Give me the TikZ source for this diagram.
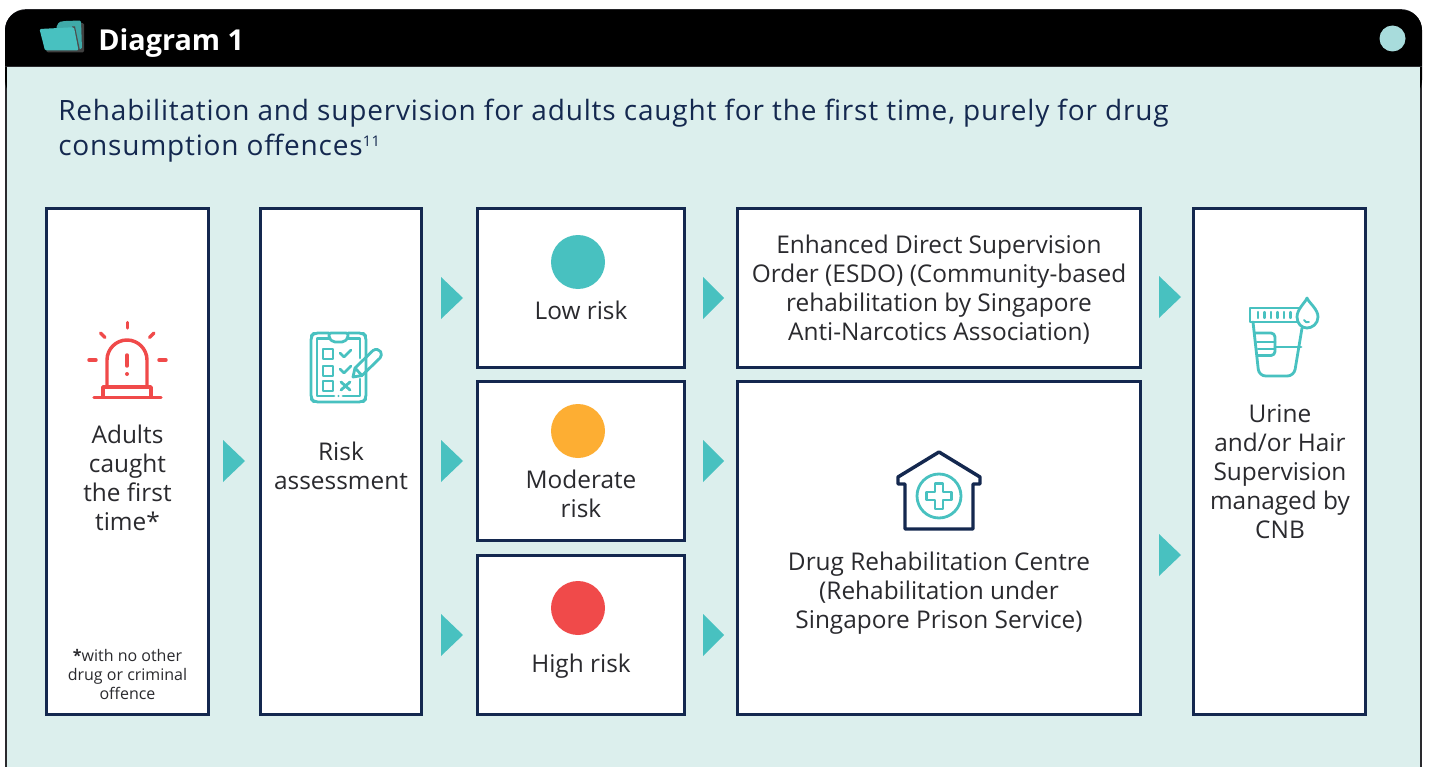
\documentclass[tikz,border=0pt]{standalone}
\usepackage{fontspec}
\setmainfont{Open Sans}
\newfontfamily\hfont[LetterSpace=2.9]{Open Sans}
\definecolor{navy}{HTML}{14284F}
\definecolor{teal}{HTML}{48C1C0}
\definecolor{panel}{HTML}{DCEFED}
\definecolor{redc}{HTML}{F04A4A}
\definecolor{amber}{HTML}{FDAE33}
\definecolor{dotc}{HTML}{A8DCDC}
\definecolor{txt}{HTML}{2A2A2E}
\tikzset{
  stepbox/.style={draw=navy,line width=2.25pt,fill=white,inner sep=0pt},
  lab/.style={font=\fontsize{18.3}{21.75}\selectfont,text=txt,align=center,inner sep=0pt},
  tri/.style={fill=teal,draw=none},
  riskdot/.style={circle,minimum size=40.5pt,inner sep=0pt,draw=none},
  icoT/.style={draw=teal,line width=2.1pt,line cap=round,line join=round},
  icoR/.style={draw=redc,line width=2.6pt,line cap=round,line join=round},
}
\newcommand{\boxat}[5]{\node[stepbox,minimum width=#4*0.75pt,minimum height=#5*0.75pt] (#1) at (#2,#3) {};}
\begin{document}
\begin{tikzpicture}[x=0.75pt,y=-0.75pt]
\useasboundingbox (0,0) rectangle (1429,767);
% panel
\draw[fill=panel,draw=txt,line width=1.3pt,rounded corners=15pt] (6,800) -- (6,10) -- (1421,10) -- (1421,800);
\fill[black,rounded corners=15pt] (5,100) -- (5,10) -- (1422,10) -- (1422,100) -- cycle;
\fill[panel] (6.7,66.5) rectangle (1420.3,110);
\draw[txt,line width=1pt] (5,66.5) -- (1422,66.5);
% folder
\fill[black!75,rounded corners=1pt] (60,24) -- (84,23) -- (84,52.5) -- (47,52.5) -- (46,50) -- cycle;
\fill[teal!88!black,rounded corners=1pt] (56,28) -- (59,22) -- (65,21) -- (81,20.5) -- (82,49) -- (66,50) -- cycle;
\fill[black!70] (72,26.5) -- (75,26.5) -- (80,50.5) -- (78,50.5) -- cycle;
\fill[teal,rounded corners=1pt] (39.5,29) -- (74,27.2) -- (78.5,50.5) -- (45,50.5) -- cycle;
\node[anchor=base west,inner sep=0pt,text=white,font=\fontsize{21.6}{26}\selectfont\bfseries] (title) at (98,50.5) {Diagram 1};
\node[circle,fill=dotc,minimum size=19.5pt,inner sep=0pt] (lamp) at (1392.5,38.5) {};
% heading
\node[anchor=base west,inner sep=0pt,text=navy,font=\fontsize{21}{26}\hfont] (h1) at (58,120.5) {Rehabilitation and supervision for adults caught for the first time, purely for drug};
\node[anchor=base west,inner sep=0pt,text=navy,font=\fontsize{21}{26}\hfont] (h2) at (58,155.5) {consumption offences\raisebox{6.5pt}{\fontsize{11}{12}\selectfont 11}};
% boxes
\boxat{adults}{127}{461}{162}{506}
\boxat{risk}{340.5}{461}{161}{506}
\boxat{low}{580.5}{287.5}{207}{159}
\boxat{mod}{580.5}{460.5}{207}{159}
\boxat{high}{580.5}{634.5}{207}{159}
\boxat{esdo}{938.5}{287.5}{403}{159}
\boxat{drc}{938.5}{547.5}{403}{333}
\boxat{urine}{1279}{461}{172}{506}
% arrows
\fill[tri] (223,440) -- (245,461) -- (223,482) -- cycle;
\foreach \y in {298,461,635}{
  \fill[tri] (441,\y-21) -- (463,\y) -- (441,\y+21) -- cycle;
  \fill[tri] (703,\y-21) -- (724,\y) -- (703,\y+21) -- cycle;
}
\fill[tri] (1159,276) -- (1181,297) -- (1159,318) -- cycle;
\fill[tri] (1159,534) -- (1181,555) -- (1159,576) -- cycle;
% risk dots
\node[riskdot,fill=teal] (d1) at (578,262) {};
\node[riskdot,fill=amber] (d2) at (578,431) {};
\node[riskdot,fill=redc] (d3) at (578,608) {};
% labels
\node[lab] (t1) at (127.5,478.2) {Adults\\caught\\the first\\time*};
\node[lab,font=\fontsize{12}{14.2}\selectfont] (t1b) at (127.5,674.2) {\textbf{*}with no other\\drug or criminal\\offence};
\node[lab] (t2) at (341,466) {Risk\\assessment};
\node[lab] (t3) at (581,310) {Low risk};
\node[lab] (t4) at (581,494) {Moderate\\risk};
\node[lab] (t5) at (581,666) {High risk};
\node[lab] (t6) at (939,289.5) {Enhanced Direct Supervision\\Order (ESDO) (Community-based\\rehabilitation by Singapore\\Anti-Narcotics Association)};
\node[lab] (t7) at (939,593) {Drug Rehabilitation Centre\\(Rehabilitation under\\Singapore Prison Service)};
\node[lab] (t8) at (1280,472) {Urine\\and/or Hair\\Supervision\\managed by\\CNB};
% siren icon
\draw[icoR] (127.3,322.5) -- (127.3,328);
\draw[icoR] (100.5,333) -- (105,337.5);
\draw[icoR] (154,333) -- (149.5,337.5);
\draw[icoR] (89,360) -- (96,360);
\draw[icoR] (159,360) -- (166,360);
\draw[icoR] (107,387) -- (107,360) .. controls (107,349) and (116,340) .. (127,340) .. controls (138,340) and (147,349) .. (147,360) -- (147,387);
\draw[icoR] (127,355) -- (127,366);
\fill[redc] (127,374) circle[radius=2];
\draw[icoR,line cap=butt] (103,397) -- (103,387) -- (151,387) -- (151,397);
\draw[icoR] (94,397.5) -- (161,397.5);
% clipboard icon
\draw[icoT,rounded corners=3pt] (348,333) -- (363,333) -- (366,336) -- (366,399) -- (363,402) -- (314,402) -- (311,399) -- (311,336) -- (314,333) -- (329,333);
\draw[icoT,rounded corners=1.5pt] (329,333) -- (329,338) -- (333,342) -- (344,342) -- (348,338) -- (348,333) -- cycle;
\draw[icoT] (329,338.5) -- (317,338.5) -- (317,396) -- (334,396);
\draw[icoT] (343,396) -- (360,396) -- (360,379);
\draw[icoT] (348,338.5) -- (360,338.5) -- (360,358);
\fill[teal] (338.5,396) circle[radius=1.2];
\draw[icoT] (323,349) rectangle (333,359);
\draw[icoT] (323,366) rectangle (333,376);
\draw[icoT] (323,381) rectangle (333,391);
\draw[icoT] (340,353) -- (344,357) -- (351,350);
\draw[icoT] (340,369) -- (344,373) -- (351,366);
\draw[icoT] (341,382) -- (350,390) (350,382) -- (341,390);
\draw[icoT] (353,377) -- (355,368) -- (373,350.5) .. controls (376,348.5) and (379,349.5) .. (380.5,351.5) .. controls (382,354) and (381.5,356) .. (380,358) -- (362,375.5) -- cycle;
\draw[icoT] (355,368) -- (362,375.5);
% house icon
\draw[draw=navy,line width=2.6pt,line join=round] (939,452) -- (980,477) -- (980,484) -- (973,484) -- (973,529) -- (905,529) -- (905,484) -- (898,484) -- (898,477) -- cycle;
\draw[teal,line width=2.1pt] (939,496) circle[radius=22];
\draw[teal,line width=2.1pt,line join=round] (935,483.5) -- (943,483.5) -- (943,492) -- (951.5,492) -- (951.5,500) -- (943,500) -- (943,509) -- (935,509) -- (935,500) -- (926.5,500) -- (926.5,492) -- (935,492) -- cycle;
% cup icon
\draw[icoT,rounded corners=5pt] (1253,322) -- (1259,376) -- (1294,376) -- (1302,328);
\draw[icoT] (1250,308) rectangle (1303,322);
\foreach \x in {1258,1264.5,1271,1277.5,1284,1290.5}{\draw[icoT,line width=1.6pt] (\x,312) -- (\x,318);}
\draw[icoT,rounded corners=3pt] (1255,333) -- (1275,333) -- (1275,355.5) -- (1258,355.5);
\draw[icoT] (1257,342) -- (1275,342) (1258,349) -- (1275,349);
\draw[icoT] (1275,347) -- (1301,347);
\draw[icoT,fill=white] (1307,298) .. controls (1309,303) and (1318,309) .. (1318,317) .. controls (1318,324) and (1312,328) .. (1307,328) .. controls (1302,328) and (1297,324) .. (1297,317) .. controls (1297,309) and (1305,303) .. (1307,298) -- cycle;
\draw[icoT,line width=1.4pt] (1304,320) .. controls (1305,322) and (1307,323) .. (1309,322);
\end{tikzpicture}
\end{document}
